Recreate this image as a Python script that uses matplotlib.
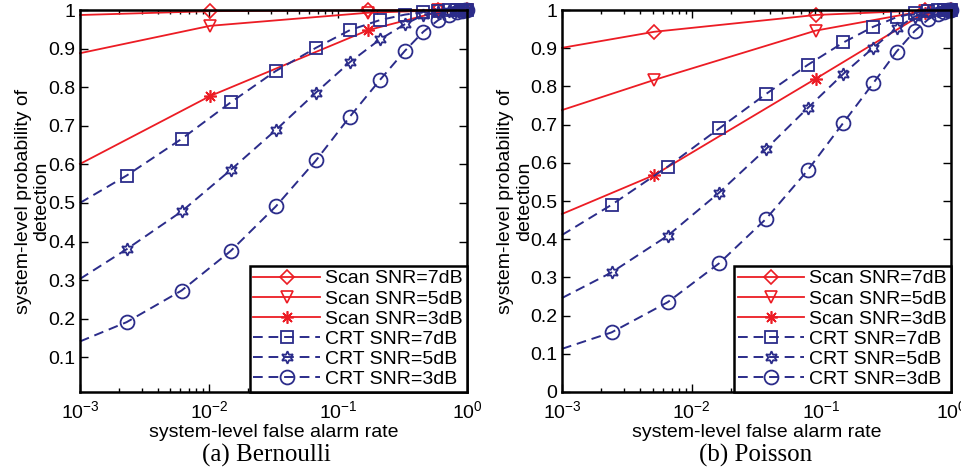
import numpy as np
import matplotlib
matplotlib.use("Agg")
import matplotlib.pyplot as plt
from matplotlib.ticker import FuncFormatter, LogLocator, NullFormatter

plt.rcParams['font.family'] = ['Liberation Sans', 'DejaVu Sans']
plt.rcParams['mathtext.default'] = 'regular'

# ------------------------------------------------
# Data
# ------------------------------------------------

# (a) Bernoulli
bern_scan_x = [0.001, 0.0102, 0.172, 0.6, 1.0]
bern_scan_7 = [0.987, 0.997, 0.999, 1.0, 1.0]
bern_scan_5 = [0.888, 0.959, 0.993, 0.999, 1.0]
bern_scan_3 = [0.601, 0.777, 0.948, 0.995, 1.0]

bern_crt_x = [0.001, 0.0023, 0.00614, 0.0148, 0.033, 0.0675, 0.124, 0.212,
              0.33, 0.46, 0.60, 0.73, 0.84, 0.92, 0.97, 1.0]
bern_crt_7 = [0.500, 0.571, 0.666, 0.761, 0.842, 0.902, 0.948, 0.974,
              0.988, 0.995, 0.998, 0.999, 1.0, 1.0, 1.0, 1.0]
bern_crt_5 = [0.303, 0.380, 0.478, 0.586, 0.689, 0.786, 0.865, 0.924,
              0.963, 0.987, 0.995, 0.998, 0.999, 1.0, 1.0, 1.0]
bern_crt_3 = [0.141, 0.191, 0.273, 0.376, 0.491, 0.610, 0.724, 0.819,
              0.894, 0.944, 0.974, 0.988, 0.995, 0.998, 1.0, 1.0]

# (b) Poisson
pois_scan_x = [0.001, 0.00515, 0.0904, 0.63, 1.0]
pois_scan_7 = [0.901, 0.943, 0.987, 0.999, 1.0]
pois_scan_5 = [0.738, 0.817, 0.946, 0.998, 1.0]
pois_scan_3 = [0.466, 0.568, 0.820, 0.993, 1.0]

pois_crt_x = [0.001, 0.00241, 0.00653, 0.0163, 0.0374, 0.0783, 0.148, 0.251,
              0.38, 0.525, 0.67, 0.79, 0.88, 0.94, 0.98, 1.0]
pois_crt_7 = [0.411, 0.490, 0.590, 0.690, 0.780, 0.856, 0.915, 0.956,
              0.981, 0.992, 0.997, 0.999, 1.0, 1.0, 1.0, 1.0]
pois_crt_5 = [0.246, 0.313, 0.409, 0.522, 0.636, 0.743, 0.833, 0.901,
              0.952, 0.983, 0.994, 0.998, 0.999, 1.0, 1.0, 1.0]
pois_crt_3 = [0.113, 0.156, 0.235, 0.337, 0.453, 0.580, 0.705, 0.808,
              0.891, 0.945, 0.976, 0.990, 0.996, 0.999, 1.0, 1.0]

labels = ["Scan SNR=7dB", "Scan SNR=5dB", "Scan SNR=3dB",
          "CRT SNR=7dB", "CRT SNR=5dB", "CRT SNR=3dB"]

RED = '#ec1c24'
BLUE = '#2b2c8a'
FS = 14


def draw_panel(ax, scan_x, scans, crt_x, crts, ymin, yticks):
    scan_markers = [dict(marker='D', ms=7), dict(marker='v', ms=9),
                    dict(marker=(8, 2, 0), ms=9)]
    crt_markers = [dict(marker='s', ms=9), dict(marker=(6, 1, 0), ms=9),
                   dict(marker='o', ms=10)]
    for y, mk, lab in zip(scans, scan_markers, labels[:3]):
        ax.plot(scan_x, y, '-', color=RED, lw=1.3, mfc='none', mec=RED,
                mew=1.2, markevery=slice(1, None), label=lab,
                clip_on=False, **mk)
    for y, mk, lab in zip(crts, crt_markers, labels[3:]):
        ax.plot(crt_x, y, '--', color=BLUE, lw=1.4, dashes=(5, 3),
                mfc='none', mec=BLUE, mew=1.3, markevery=slice(1, None),
                label=lab, clip_on=False, **mk)

    ax.set_xscale('log')
    ax.set_xlim(1e-3, 1)
    ax.set_ylim(ymin, 1)
    ax.set_yticks(yticks)
    ax.yaxis.set_major_formatter(FuncFormatter(lambda v, p: '%g' % round(v, 1)))
    ax.xaxis.set_major_locator(LogLocator(base=10, numticks=10))
    ax.xaxis.set_minor_locator(LogLocator(base=10, subs=np.arange(2, 10), numticks=10))
    ax.xaxis.set_minor_formatter(NullFormatter())
    ax.tick_params(which='both', direction='in', top=True, right=True,
                   labelsize=FS, width=1.0)
    ax.tick_params(axis='x', which='major', pad=6)
    ax.tick_params(which='major', length=6)
    ax.tick_params(which='minor', length=3)
    for s in ax.spines.values():
        s.set_linewidth(1.8)

    ax.set_xlabel("system-level false alarm rate", fontsize=FS, labelpad=1)
    ax.set_ylabel("system-level probability of\ndetection", fontsize=FS,
                  labelpad=-2, linespacing=1.1)

    leg = ax.legend(loc='lower right', fontsize=FS, borderaxespad=0,
                    handlelength=3.4, labelspacing=0.13, handletextpad=0.3,
                    borderpad=0.2, fancybox=False, framealpha=1,
                    edgecolor='black')
    leg.get_frame().set_linewidth(1.8)
    leg.set_zorder(5)


fig = plt.figure(figsize=(9.61, 4.72), dpi=100)
ax1 = fig.add_axes([0.0832, 0.1695, 0.4027, 0.8093])
ax2 = fig.add_axes([0.5848, 0.1695, 0.4048, 0.8093])

draw_panel(ax1, bern_scan_x, [bern_scan_7, bern_scan_5, bern_scan_3],
           bern_crt_x, [bern_crt_7, bern_crt_5, bern_crt_3],
           0.01, np.arange(0.1, 1.01, 0.1))
draw_panel(ax2, pois_scan_x, [pois_scan_7, pois_scan_5, pois_scan_3],
           pois_crt_x, [pois_crt_7, pois_crt_5, pois_crt_3],
           0.0, np.arange(0, 1.01, 0.1))

fig.text(0.2775, 0.036, "(a) Bernoulli", ha='center', va='center',
         fontsize=18, family='Liberation Serif')
fig.text(0.786, 0.036, "(b) Poisson", ha='center', va='center',
         fontsize=18, family='Liberation Serif')

fig.savefig("out.png", dpi=100)
